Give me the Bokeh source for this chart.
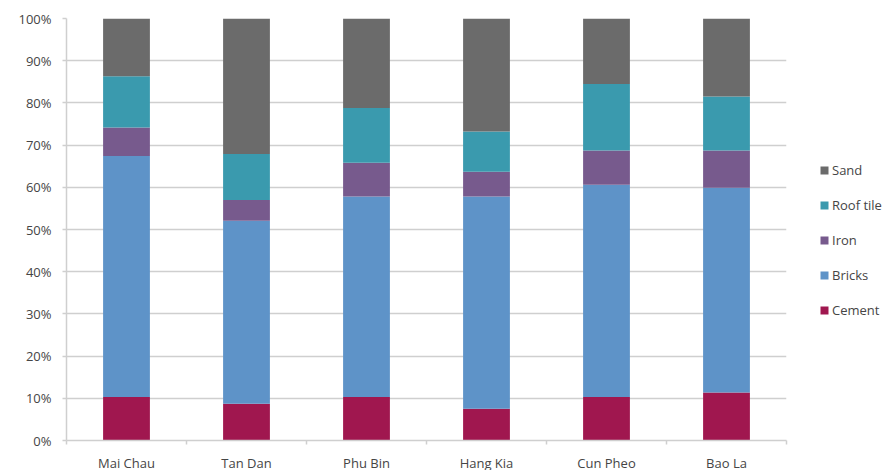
from bokeh.plotting import figure
from bokeh.models import (ColumnDataSource, Range1d, FixedTicker, NumeralTickFormatter,
                          Legend, LegendItem)
from bokeh.embed import file_html
from bokeh.resources import INLINE

# Share of each building material per commune (%)
sites = ["Mai Chau", "Tan Dan", "Phu Bin", "Hang Kia", "Cun Pheo", "Bao La"]
cement = [10.3, 8.7, 10.3, 7.5, 10.3, 11.4]
bricks = [57.1, 43.4, 47.5, 50.3, 50.3, 48.5]
iron = [6.8, 4.9, 8.0, 5.9, 8.1, 8.8]
roof_tile = [12.1, 10.9, 13.0, 9.5, 15.8, 12.8]
sand = [13.7, 32.1, 21.2, 26.8, 15.5, 18.5]

materials = ["Cement", "Bricks", "Iron", "Roof tile", "Sand"]
colors = ["#A0174F", "#5E93C8", "#775A8D", "#3A9AAE", "#6B6B6B"]

font = "Open Sans"
text_color = "#454545"
grid_color = "#CFCFCF"

n = len(sites)
centers = [i + 0.5 for i in range(n)]
data = {"x": centers}
for name, vals in zip(materials, [cement, bricks, iron, roof_tile, sand]):
    data[name] = [v / 100.0 for v in vals]
source = ColumnDataSource(data)

p = figure(width=888, height=470, frame_width=720, frame_height=422,
           min_border_left=66, min_border_right=102, min_border_top=18, min_border_bottom=30,
           x_range=Range1d(0, n), y_range=Range1d(0, 1),
           output_backend="svg", toolbar_location=None, tools="")
p.outline_line_color = None
p.background_fill_color = "white"
p.border_fill_color = "white"

renderers = p.vbar_stack(materials, x="x", width=0.39, color=colors,
                         line_color=None, source=source)

# y axis: percentage ticks with gridlines
p.yaxis.ticker = FixedTicker(ticks=[i / 10 for i in range(11)])
p.yaxis.formatter = NumeralTickFormatter(format="0%")
p.yaxis.axis_line_color = grid_color
p.yaxis.axis_line_width = 1.5
p.yaxis.major_tick_line_color = grid_color
p.yaxis.major_tick_line_width = 1.5
p.yaxis.major_tick_out = 4
p.yaxis.major_tick_in = 0
p.yaxis.minor_tick_line_color = None
p.yaxis.major_label_text_font = font
p.yaxis.major_label_text_font_size = "13px"
p.yaxis.major_label_text_color = text_color
p.yaxis.major_label_standoff = 11

# x axis: labels at bar centres, tick marks between categories
p.xaxis.ticker = FixedTicker(ticks=centers, minor_ticks=list(range(n + 1)))
p.xaxis.major_label_overrides = {c: s for c, s in zip(centers, sites)}
p.xaxis.axis_line_color = grid_color
p.xaxis.axis_line_width = 1.5
p.xaxis.major_tick_line_color = None
p.xaxis.minor_tick_line_color = grid_color
p.xaxis.minor_tick_line_width = 1.5
p.xaxis.minor_tick_out = 4
p.xaxis.minor_tick_in = 0
p.xaxis.major_label_text_font = font
p.xaxis.major_label_text_font_size = "13px"
p.xaxis.major_label_text_color = text_color
p.xaxis.major_label_standoff = 7

p.xgrid.grid_line_color = None
p.ygrid.grid_line_color = grid_color
p.ygrid.grid_line_width = 1.5

items = [LegendItem(label=m, renderers=[r]) for m, r in zip(materials, renderers)][::-1]
legend = Legend(items=items, location=(33, 121), orientation="vertical",
                glyph_width=10, glyph_height=10, label_height=14, spacing=17,
                label_standoff=3, padding=0, margin=0,
                label_text_font=font, label_text_font_size="13px",
                label_text_color=text_color,
                background_fill_alpha=0, border_line_color=None)
p.add_layout(legend, "right")

open("out.html", "w").write(file_html(p, INLINE))
